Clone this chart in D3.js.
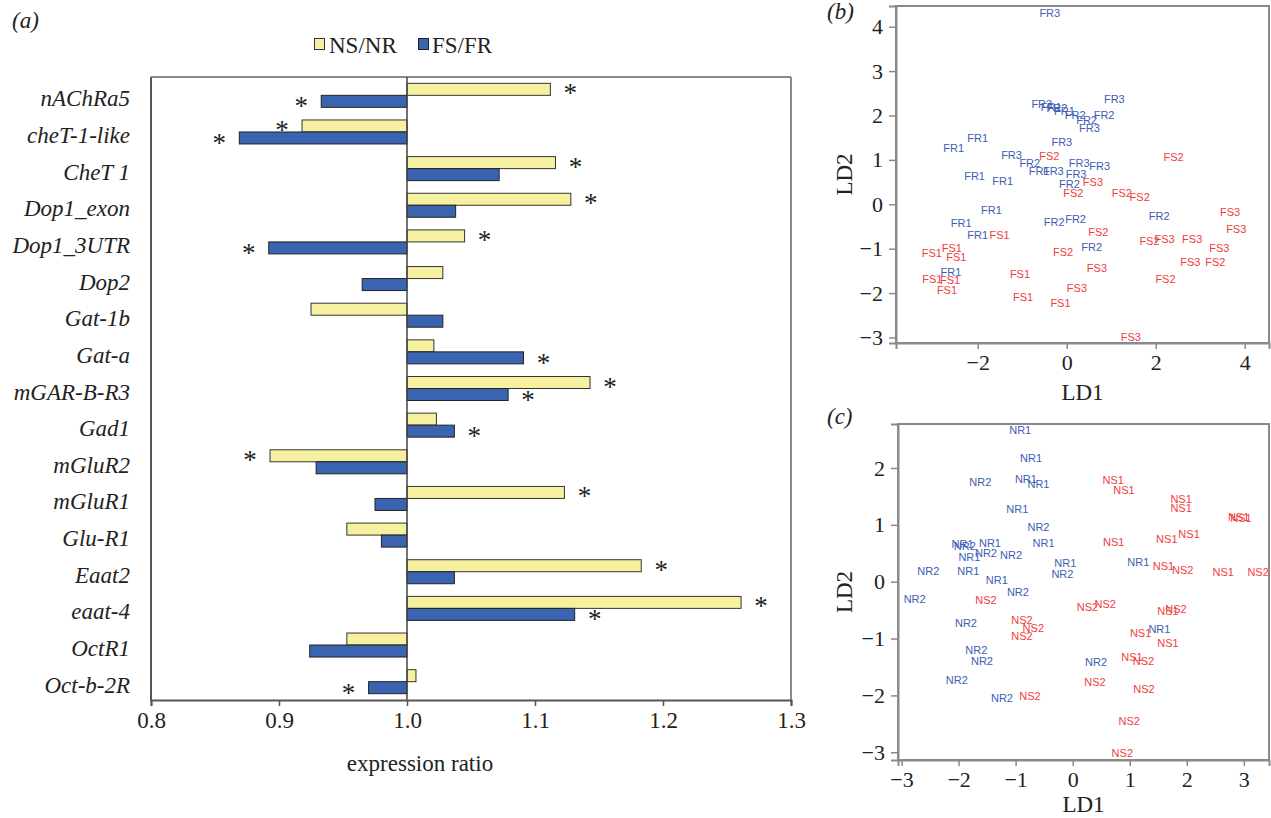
<!DOCTYPE html>
<html>
<head>
<meta charset="utf-8">
<script src="https://cdn.jsdelivr.net/npm/d3@7/dist/d3.min.js"></script>
<style>
  body { margin: 0; background: #fff; }
  svg { display: block; }
  .serif { font-family: "Liberation Serif", "Times New Roman", serif; fill: #222; }
  .lab { font-family: "Liberation Sans", Arial, sans-serif; font-size: 11px; }
</style>
</head>
<body>
<svg id="fig" width="1271" height="818"></svg>
<script>
// panel (a) data
const genes = ["nAChRa5", "cheT-1-like", "CheT 1", "Dop1_exon", "Dop1_3UTR", "Dop2", "Gat-1b", "Gat-a",
    "mGAR-B-R3", "Gad1", "mGluR2", "mGluR1", "Glu-R1", "Eaat2", "eaat-4", "OctR1", "Oct-b-2R"];
const nsnr = [1.112, 0.918, 1.116, 1.128, 1.045, 1.028, 0.925, 1.021, 1.143, 1.023, 0.893, 1.123, 0.953, 1.183, 1.261, 0.953, 1.007];
const fsfr = [0.933, 0.869, 1.072, 1.038, 0.892, 0.965, 1.028, 1.091, 1.079, 1.037, 0.929, 0.975, 0.980, 1.037, 1.131, 0.924, 0.970];
const nsnrSig = [1, 1, 1, 1, 1, 0, 0, 0, 1, 0, 1, 1, 0, 1, 1, 0, 0];
const fsfrSig = [1, 1, 0, 0, 1, 0, 0, 1, 1, 1, 0, 0, 0, 0, 1, 0, 1];
const xTicksA = [0.8, 0.9, 1.0, 1.1, 1.2, 1.3];

// panel (b) data
const bLabels = ["FR3", "FR3", "FR1", "FR2", "FR1", "FR2", "FR2", "FR2", "FR3", "FR3", "FR1", "FR1", "FR3", "FR3", "FS2",
    "FR2", "FR1", "FR3", "FR3", "FR3", "FR3", "FS2", "FR1", "FR1", "FR2", "FS3", "FS2", "FS2", "FS2", "FR1", "FR1", "FR1",
    "FS1", "FR2", "FR2", "FR2", "FS3", "FS3", "FS2", "FS2", "FS3", "FS3", "FS3", "FS3", "FS2", "FR2", "FS2", "FS1", "FS1",
    "FS1", "FR1", "FS1", "FS1", "FS1", "FS1", "FS1", "FS1", "FS3", "FS3", "FS2", "FS3"];
const bLD1 = [-0.38, -0.56, -0.35, -0.22, -0.05, 0.19, 0.45, 0.84, 0.51, 1.07, -2.00, -2.54, -0.11, -1.24, -0.39,
    -0.83, -0.62, -0.30, 0.28, 0.74, 0.21, 2.40, -2.07, -1.44, 0.06, 0.59, 0.15, 1.24, 1.64, -1.69, -2.37, -2.00,
    -1.51, -0.28, 0.20, 2.08, 3.67, 3.81, 0.71, 1.86, 2.20, 2.82, 3.43, 2.78, 3.34, 0.56, -0.08, -3.03, -2.58,
    -2.48, -2.60, -3.02, -2.62, -2.69, -1.05, -0.98, -0.14, 0.68, 0.23, 2.22, 1.44];
const bLD2 = [4.30, 2.26, 2.18, 2.17, 2.10, 2.00, 1.89, 2.00, 1.71, 2.37, 1.50, 1.26, 1.41, 1.11, 1.09,
    0.93, 0.76, 0.76, 0.93, 0.86, 0.68, 1.07, 0.64, 0.53, 0.46, 0.51, 0.26, 0.26, 0.17, -0.13, -0.43, -0.69,
    -0.69, -0.41, -0.34, -0.26, -0.18, -0.56, -0.63, -0.82, -0.78, -0.78, -0.98, -1.31, -1.29, -0.97, -1.08, -1.10, -0.99,
    -1.18, -1.52, -1.68, -1.70, -1.94, -1.57, -2.09, -2.23, -1.44, -1.88, -1.68, -2.98];
const bTicksX = [-2, 0, 2, 4];
const bTicksY = [-3, -2, -1, 0, 1, 2, 3, 4];

// panel (c) data
const cLabels = ["NR1", "NR1", "NR2", "NR1", "NR1", "NR1", "NR2", "NR1", "NR1", "NR2", "NR1", "NR1", "NR2", "NR2",
    "NR1", "NR2", "NR2", "NR1", "NR1", "NR2", "NR2", "NS2", "NR1", "NS1", "NS1", "NS1", "NS1", "NS1", "NS1", "NS1",
    "NS1", "NS1", "NS1", "NS2", "NS1", "NS2", "NS2", "NS2", "NS1", "NS2", "NR2", "NS2", "NS2", "NS2", "NR1", "NS1",
    "NS1", "NR2", "NR2", "NR2", "NS1", "NS2", "NR2", "NS2", "NS2", "NR2", "NS2", "NS2", "NS2"];
const cLD1 = [-0.92, -0.73, -1.62, -0.82, -0.60, -0.97, -0.60, -0.51, -1.93, -1.89, -1.45, -1.81, -1.52, -1.08,
    -0.13, -0.18, -2.53, -1.83, -1.33, -0.96, -2.77, -1.52, 1.15, 0.71, 0.90, 1.90, 1.90, 2.91, 2.95, 0.72,
    1.65, 2.04, 1.59, 1.93, 2.64, 3.25, 0.26, 0.57, 1.67, 1.81, -1.87, -0.89, -0.69, -0.89, 1.52, 1.19,
    1.67, -1.69, -1.59, 0.41, 1.04, 1.24, -2.03, 0.39, 1.25, -1.24, -0.75, 0.99, 0.87];
const cLD2 = [2.66, 2.18, 1.75, 1.81, 1.72, 1.27, 0.96, 0.68, 0.66, 0.62, 0.68, 0.44, 0.51, 0.47,
    0.33, 0.14, 0.18, 0.18, 0.03, -0.18, -0.31, -0.32, 0.34, 1.79, 1.61, 1.46, 1.29, 1.13, 1.12, 0.70,
    0.75, 0.83, 0.28, 0.21, 0.17, 0.17, -0.45, -0.39, -0.52, -0.48, -0.72, -0.67, -0.82, -0.96, -0.84, -0.91,
    -1.08, -1.21, -1.40, -1.42, -1.33, -1.40, -1.73, -1.77, -1.88, -2.05, -2.01, -2.45, -3.02];
const cTicksX = [-3, -2, -1, 0, 1, 2, 3];
const cTicksY = [-3, -2, -1, 0, 1, 2];

const yellow = "#f6f1a0", blue = "#3a63b0";
const rColor = "#f03c3c", bColor = "#3d5db2";

let svg = d3.select('#fig');
svg.append("rect").attr("width", 1271).attr("height", 818).attr("fill", "#fff");

function drawBars() {
    let x = d3.scaleLinear().domain([0.8, 1.3]).range([151, 791]),
        y = d3.scaleBand().domain(genes).range([77, 700]),
        h = 12;

    let g = svg.append("g");

    // frame: light top/right, darker left/bottom
    g.append("line").attr("x1", 151).attr("x2", 791).attr("y1", 77).attr("y2", 77)
        .attr("stroke", "#8a8a8a").attr("stroke-width", 2);
    g.append("line").attr("x1", 791).attr("x2", 791).attr("y1", 77).attr("y2", 700)
        .attr("stroke", "#8a8a8a").attr("stroke-width", 2);

    let rows = genes.map(function(d, i) {
        return { gene: d, ns: nsnr[i], fs: fsfr[i], nsSig: nsnrSig[i], fsSig: fsfrSig[i] };
    });

    let row = g.selectAll(".row").data(rows).enter().append("g").classed("row", true);

    function barX(v) { return Math.min(x(v), x(1)); }
    function barW(v) { return Math.abs(x(v) - x(1)); }
    function mid(d) { return y(d.gene) + y.bandwidth() / 2; }

    row.append("rect")
        .attr("x", function(d) { return barX(d.ns); })
        .attr("y", function(d) { return mid(d) - h; })
        .attr("width", function(d) { return barW(d.ns); })
        .attr("height", h)
        .attr("fill", yellow).attr("stroke", "#333").attr("stroke-width", 1);

    row.append("rect")
        .attr("x", function(d) { return barX(d.fs); })
        .attr("y", function(d) { return mid(d); })
        .attr("width", function(d) { return barW(d.fs); })
        .attr("height", h)
        .attr("fill", blue).attr("stroke", "#222").attr("stroke-width", 1);

    function starX(v) { return v >= 1 ? x(v) + 20 : x(v) - 20; }

    row.filter(function(d) { return d.nsSig; }).append("text")
        .attr("class", "serif")
        .attr("x", function(d) { return starX(d.ns); })
        .attr("y", function(d) { return mid(d) - h / 2 + 13; })
        .attr("text-anchor", "middle").attr("font-size", 27)
        .text("*");

    row.filter(function(d) { return d.fsSig; }).append("text")
        .attr("class", "serif")
        .attr("x", function(d) { return starX(d.fs); })
        .attr("y", function(d) { return mid(d) + h / 2 + 14; })
        .attr("text-anchor", "middle").attr("font-size", 27)
        .text("*");

    // gene names
    g.selectAll(".gene").data(genes).enter().append("text")
        .attr("class", "serif")
        .attr("x", 130)
        .attr("y", function(d) { return y(d) + y.bandwidth() / 2 + 11; })
        .attr("text-anchor", "end")
        .attr("font-size", 23).attr("font-style", "italic")
        .text(function(d) { return d; });

    // reference line at 1.0
    g.append("line").attr("x1", x(1)).attr("x2", x(1)).attr("y1", 77).attr("y2", 700)
        .attr("stroke", "#444").attr("stroke-width", 1.5);

    let ax = g.append("g").attr("transform", "translate(0,700)")
        .call(d3.axisBottom(x).tickValues(xTicksA).tickSize(6).tickPadding(6).tickFormat(d3.format(".1f")));
    ax.select(".domain").attr("stroke", "#555").attr("stroke-width", 2);
    ax.selectAll(".tick line").attr("stroke", "#555").attr("stroke-width", 1.5);
    ax.selectAll(".tick text").attr("class", "serif").attr("font-size", 23).attr("fill", "#222");

    g.append("line").attr("x1", 151).attr("x2", 151).attr("y1", 77).attr("y2", 701)
        .attr("stroke", "#555").attr("stroke-width", 2);

    g.append("text").attr("class", "serif").attr("x", 420).attr("y", 771)
        .attr("text-anchor", "middle").attr("font-size", 23).text("expression ratio");

    // legend
    let leg = g.append("g");
    leg.append("rect").attr("x", 314.5).attr("y", 38.5).attr("width", 10).attr("height", 11)
        .attr("fill", yellow).attr("stroke", "#333");
    leg.append("text").attr("class", "serif").attr("x", 329).attr("y", 52.5)
        .attr("font-size", 23).text("NS/NR");
    leg.append("rect").attr("x", 418.5).attr("y", 38.5).attr("width", 10).attr("height", 11)
        .attr("fill", blue).attr("stroke", "#222");
    leg.append("text").attr("class", "serif").attr("x", 432).attr("y", 52.5)
        .attr("font-size", 23).text("FS/FR");

    g.append("text").attr("class", "serif").attr("x", 12).attr("y", 28)
        .attr("font-size", 23).attr("font-style", "italic").text("(a)");
}

function drawScatter(opt) {
    let x = d3.scaleLinear().domain(opt.xd).range([opt.left, opt.right]),
        y = d3.scaleLinear().domain(opt.yd).range([opt.bottom, opt.top]);

    let g = svg.append("g");

    g.append("rect").attr("x", opt.left).attr("y", opt.top)
        .attr("width", opt.right - opt.left).attr("height", opt.bottom - opt.top)
        .attr("fill", "none").attr("stroke", "#8a8a8a").attr("stroke-width", 2);

    let pts = opt.labels.map(function(d, i) { return { lab: d, x: opt.xs[i], y: opt.ys[i] }; });

    g.selectAll(".lab").data(pts).enter().append("text")
        .attr("class", "lab")
        .attr("x", function(d) { return x(d.x); })
        .attr("y", function(d) { return y(d.y); })
        .attr("dy", "0.36em")
        .attr("text-anchor", "middle")
        .attr("fill", function(d) { return d.lab.charAt(1) === "R" ? bColor : rColor; })
        .text(function(d) { return d.lab; });

    let ax = g.append("g").attr("transform", "translate(0," + opt.bottom + ")")
        .call(d3.axisBottom(x).tickValues(opt.tx).tickSize(6).tickPadding(5).tickFormat(d3.format("d")));
    let ay = g.append("g").attr("transform", "translate(" + opt.left + ",0)")
        .call(d3.axisLeft(y).tickValues(opt.ty).tickSize(7).tickPadding(6).tickFormat(d3.format("d")));

    [ax, ay].forEach(function(a) {
        a.select(".domain").attr("stroke", "#8a8a8a").attr("stroke-width", 2);
        a.selectAll(".tick line").attr("stroke", "#8a8a8a").attr("stroke-width", 1.5);
        a.selectAll(".tick text").attr("class", "serif").attr("font-size", 22).attr("fill", "#222");
    });

    let cx = (opt.left + opt.right) / 2, cy = (opt.top + opt.bottom) / 2;
    g.append("text").attr("class", "serif").attr("x", cx).attr("y", opt.xlabY)
        .attr("text-anchor", "middle").attr("font-size", 23).text("LD1");
    g.append("text").attr("class", "serif")
        .attr("transform", "translate(852," + cy + ") rotate(-90)")
        .attr("text-anchor", "middle").attr("font-size", 23).text("LD2");

    g.append("text").attr("class", "serif").attr("x", 827).attr("y", opt.tagY)
        .attr("font-size", 23).attr("font-style", "italic").text(opt.tag);
}

drawBars();

drawScatter({
    xd: [-3.836, 4.546], yd: [-3.124, 4.466],
    left: 896, right: 1269, top: 6, bottom: 343,
    labels: bLabels, xs: bLD1, ys: bLD2,
    tx: bTicksX, ty: bTicksY,
    xlabY: 400, tagY: 19, tag: "(b)"
});

drawScatter({
    xd: [-3.062, 3.441], yd: [-3.136, 2.774],
    left: 898, right: 1269, top: 424, bottom: 760,
    labels: cLabels, xs: cLD1, ys: cLD2,
    tx: cTicksX, ty: cTicksY,
    xlabY: 812, tagY: 424, tag: "(c)"
});
</script>
</body>
</html>
